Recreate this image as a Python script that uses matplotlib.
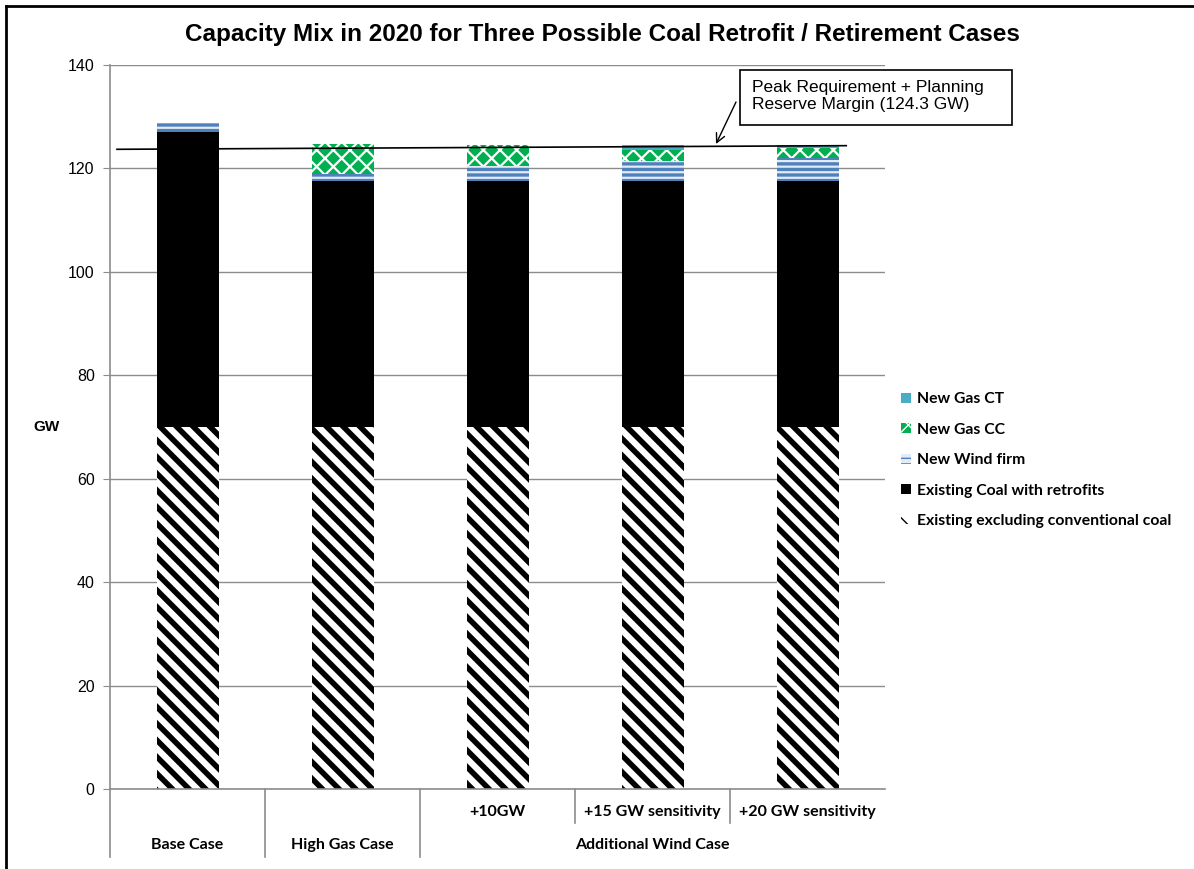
import numpy as np
import matplotlib.pyplot as plt
from matplotlib.lines import Line2D
from matplotlib.patches import Rectangle

plt.rcParams['font.family'] = ['Liberation Sans', 'DejaVu Sans']

cases = ['Base Case', 'High Gas Case', 'Additional Wind Case']
case_pos = [0, 1, 3]
subcases = ['', '', '+10GW', '+15 GW sensitivity', '+20 GW sensitivity']

existing = [70, 70, 70, 70, 70]
coal = [57.0, 47.5, 47.5, 47.5, 47.5]
wind = [1.8, 1.5, 3.0, 4.0, 4.6]
gas_cc = [0.0, 5.7, 4.0, 2.0, 1.9]
gas_ct = [0.0, 0.0, 0.0, 1.0, 0.6]
peak_x = [-0.455, 4.25]
peak_y = [123.7, 124.4]

W, H = 1194, 869
fig = plt.figure(figsize=(W / 100, H / 100), dpi=100)
ax = fig.add_axes([110 / W, (H - 789) / H, 775 / W, 724 / H])

x = np.arange(len(existing))
bw = 0.4
grey = '#8c8c8c'

series = [
    (existing, 'Existing excluding conventional coal', dict(facecolor='white', edgecolor='black', hatch='\\\\'), 4.0),
    (coal, 'Existing Coal with retrofits', dict(facecolor='black', edgecolor='black'), None),
    (wind, 'New Wind firm', dict(facecolor='#e3ebf5', edgecolor='#4f81bd', hatch='---'), 2.4),
    (gas_cc, 'New Gas CC', dict(facecolor='#00b050', edgecolor='white', hatch='xx'), 1.6),
    (gas_ct, 'New Gas CT', dict(facecolor='#4bacc6', edgecolor='#4bacc6'), None),
]

bottom = np.zeros(len(x))
handles = []
for vals, label, style, hlw in series:
    bars = ax.bar(x, vals, bw, bottom=bottom, linewidth=0, label=label, zorder=2, **style)
    if hlw is not None:
        for p in bars.patches:
            if hasattr(p, 'set_hatch_linewidth'):
                p.set_hatch_linewidth(hlw)
    handles.append(bars)
    bottom += np.array(vals)

ax.plot(peak_x, peak_y, color='black', lw=1.2, zorder=3)

ax.set_xlim(-0.5, 4.5)
ax.set_ylim(0, 140)
ax.set_yticks(np.arange(0, 141, 20))
ax.tick_params(axis='y', labelsize=11.5, length=5, color=grey, pad=6)
ax.set_xticks([])
ax.yaxis.grid(True, color=grey, lw=1)
ax.set_axisbelow(True)
for s in ['top', 'right']:
    ax.spines[s].set_visible(False)
for s in ['left', 'bottom']:
    ax.spines[s].set_color(grey)
    ax.spines[s].set_linewidth(1.2)

# two-level category axis
tr = ax.get_xaxis_transform()
lab_font = dict(family=['Lato', 'DejaVu Sans'], fontweight='bold', fontsize=11.5)
for xs, lo in [(-0.5, -0.094), (0.5, -0.094), (1.5, -0.094), (2.5, -0.047), (3.5, -0.047)]:
    ax.add_line(Line2D([xs, xs], [0, lo], transform=tr, color=grey, lw=1.2, clip_on=False))
for i, s in enumerate(subcases):
    if s:
        ax.text(i, -0.0318, s, transform=tr, ha='center', va='center', **lab_font)
for c, p in zip(cases, case_pos):
    ax.text(p, -0.0773, c, transform=tr, ha='center', va='center', **lab_font)

ax.text(-0.082, 0.5, 'GW', transform=ax.transAxes, ha='center', va='center',
        fontweight='bold', fontsize=11)

fig.text(602 / W, 1 - 35 / H, 'Capacity Mix in 2020 for Three Possible Coal Retrofit / Retirement Cases',
         ha='center', va='center', fontsize=17.5, fontweight='bold')

# annotation box
fig.add_artist(Rectangle((740 / W, 1 - 125 / H), 272 / W, 55 / H, transform=fig.transFigure,
                         fc='white', ec='black', lw=1.2))
fig.text(752 / W, 1 - 96 / H, 'Peak Requirement + Planning\nReserve Margin (124.3 GW)',
         ha='left', va='center', fontsize=12.5, linespacing=1.15)
ax.annotate('', xy=(716 / W, 1 - 144 / H), xycoords='figure fraction',
            xytext=(736 / W, 1 - 102 / H), textcoords='figure fraction',
            arrowprops=dict(arrowstyle='->', color='black', lw=1, shrinkA=0, shrinkB=0,
                            mutation_scale=16))

leg = fig.legend(handles[::-1], [h.get_label() for h in handles[::-1]],
                 loc='upper left', bbox_to_anchor=(887 / W, 1 - 378 / H), frameon=False,
                 prop=dict(family=['Lato', 'DejaVu Sans'], weight='bold', size=11.3),
                 handlelength=0.6, handleheight=0.6, handletextpad=0.4, labelspacing=1.05)

# chart area border (left and top)
fig.add_artist(Line2D([6 / W, 6 / W], [0, 1 - 6 / H], transform=fig.transFigure, color='black', lw=2))
fig.add_artist(Line2D([6 / W, 1], [1 - 6 / H, 1 - 6 / H], transform=fig.transFigure, color='black', lw=2))

fig.savefig('out.png', dpi=100)
